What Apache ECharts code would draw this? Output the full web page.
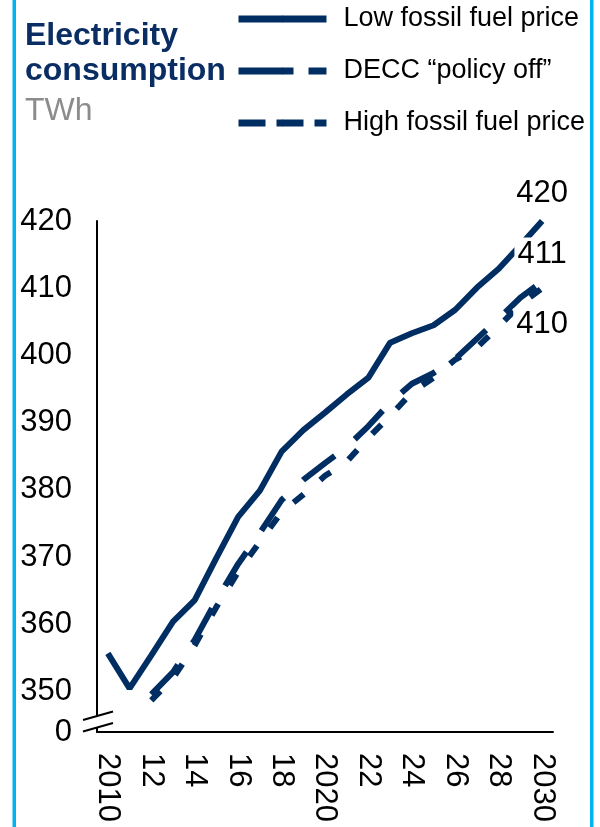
<!DOCTYPE html>
<html>
<head>
<meta charset="utf-8">
<script src="https://cdn.jsdelivr.net/npm/echarts@6/dist/echarts.min.js"></script>
<style>
html,body{margin:0;padding:0;background:#fff;}
#c{width:600px;height:827px;}
</style>
</head>
<body>
<div id="c"></div>
<script>
// ---- data ----
const years = ['2010','2011','2012','2013','2014','2015','2016','2017','2018','2019','2020',
               '2021','2022','2023','2024','2025','2026','2027','2028','2029','2030'];
const seriesNames = ['Low fossil fuel price', 'DECC \u201cpolicy off\u201d', 'High fossil fuel price'];
const lowFossil = [355.7, 350.5, 355.4, 360.4, 363.6, 369.9, 376.0, 379.9, 385.7, 388.9, 391.5,
                   394.2, 396.7, 401.9, 403.3, 404.5, 406.8, 410.1, 412.9, 416.4, 420];
const deccPolicyOff = [null, null, 349.6, 352.9, 357.7, 363.6, 369.0, 373.6, 378.5, 381.5, 384.0,
                   386.4, 389.5, 393.0, 395.8, 397.4, 399.5, 402.5, 405.5, 408.6, 411];
const highFossil = [null, null, 348.7, 352.0, 356.9, 362.6, 367.8, 372.3, 376.7, 379.3, 382.1,
                   384.2, 387.8, 391.0, 394.5, 396.7, 399.4, 401.2, 404.3, 407.6, 410];
const yAxisMin = 344;      // shown as "0" (broken axis)
const yAxisMax = 420;
const yLabelStep = 10;
const titleLines = ['Electricity', 'consumption'];
const unitLabel = 'TWh';

// ---- style ----
const NAVY = '#002D62';
const FONT = 'Liberation Sans, Arial, sans-serif';

const chart = echarts.init(document.getElementById('c'), null, {renderer: 'canvas'});

function withEndLabel(arr, labelOpt) {
  return arr.map((v, i) => i === arr.length - 1
    ? {value: v, symbol: 'circle', symbolSize: 0, label: Object.assign({
        show: true, fontSize: 31, fontFamily: FONT, color: '#000',
        formatter: p => String(Math.round(p.value))
      }, labelOpt)}
    : v);
}

const option = {
  backgroundColor: '#fff',
  animation: false,
  title: {
    text: titleLines.join('\n'),
    subtext: unitLabel,
    left: 20, top: 14, itemGap: 5,
    textStyle: {fontSize: 32, fontWeight: 'bold', color: '#0A2D63', fontFamily: FONT, lineHeight: 35},
    subtextStyle: {fontSize: 32, color: '#8C8C8C', fontFamily: FONT, lineHeight: 35}
  },
  legend: {
    orient: 'vertical', left: 235, top: 4, padding: 0,
    itemWidth: 88, itemHeight: 8, itemGap: 22,
    textStyle: {fontSize: 27, color: '#000', fontFamily: FONT, lineHeight: 30, padding: [0, 0, 0, 12]},
    data: [
      {name: seriesNames[0], lineStyle: {width: 7, type: 'solid', color: NAVY}},
      {name: seriesNames[1], lineStyle: {width: 7, type: [55, 15], color: NAVY}},
      {name: seriesNames[2], lineStyle: {width: 7, type: [27, 11], color: NAVY}}
    ]
  },
  grid: {left: 97, right: 47, top: 221, bottom: 95, containLabel: false},
  xAxis: {
    type: 'category', data: years, boundaryGap: true,
    axisLine: {show: true, lineStyle: {color: '#000', width: 2}},
    axisTick: {show: false},
    axisLabel: {
      interval: 1, rotate: -90, margin: 21, fontSize: 31, fontFamily: FONT, color: '#000',
      formatter: v => (Number(v) % 10 === 0 ? v : v.slice(2))
    },
    splitLine: {show: false}
  },
  yAxis: {
    type: 'value', min: yAxisMin, max: yAxisMax, interval: 2,
    axisLine: {show: true, lineStyle: {color: '#000', width: 2}},
    axisTick: {show: false},
    splitLine: {show: false},
    axisLabel: {
      margin: 25, fontSize: 31, fontFamily: FONT, color: '#000',
      formatter: v => (v === yAxisMin ? '0' : (v % yLabelStep === 0 ? String(v) : ''))
    }
  },
  series: [
    {
      name: seriesNames[0], type: 'line', symbol: 'none', showAllSymbol: true,
      lineStyle: {color: NAVY, width: 6},
      itemStyle: {color: NAVY},
      data: withEndLabel(lowFossil, {position: 'top', distance: 12})
    },
    {
      name: seriesNames[1], type: 'line', symbol: 'none', showAllSymbol: true,
      lineStyle: {color: NAVY, width: 6, type: [40, 26]},
      itemStyle: {color: NAVY},
      data: withEndLabel(deccPolicyOff, {position: 'top', distance: 11, backgroundColor: '#fff', padding: [1, 3]})
    },
    {
      name: seriesNames[2], type: 'line', symbol: 'none', showAllSymbol: true,
      lineStyle: {color: NAVY, width: 6, type: [13, 22]},
      itemStyle: {color: NAVY},
      data: withEndLabel(highFossil, {position: 'bottom', distance: 20, backgroundColor: '#fff', padding: [1, 3]})
    }
  ],
  graphic: [
    {type: 'rect', id: 'bl', shape: {x: 12.5, y: 0, width: 3.5, height: 827}, style: {fill: '#00B4F0'}, silent: true},
    {type: 'rect', id: 'br', shape: {x: 590, y: 0, width: 3.5, height: 827}, style: {fill: '#00B4F0'}, silent: true}
  ]
};

chart.setOption(option);

// axis-break marker on the y axis, positioned from the axis scale
const y0 = chart.convertToPixel({yAxisIndex: 0}, yAxisMin);
const ax = 97;
chart.setOption({
  graphic: [
    {type: 'rect', id: 'brkgap', shape: {x: ax - 4, y: y0 - 15, width: 8, height: 10}, style: {fill: '#fff'}, z: 50, silent: true},
    {type: 'line', id: 'brk1', shape: {x1: ax - 14, y1: y0 - 12, x2: ax + 16, y2: y0 - 20.5}, style: {stroke: '#000', lineWidth: 2}, z: 51, silent: true},
    {type: 'line', id: 'brk2', shape: {x1: ax - 14, y1: y0 - 0.5, x2: ax + 16, y2: y0 - 9}, style: {stroke: '#000', lineWidth: 2}, z: 51, silent: true}
  ]
});
</script>
</body>
</html>
